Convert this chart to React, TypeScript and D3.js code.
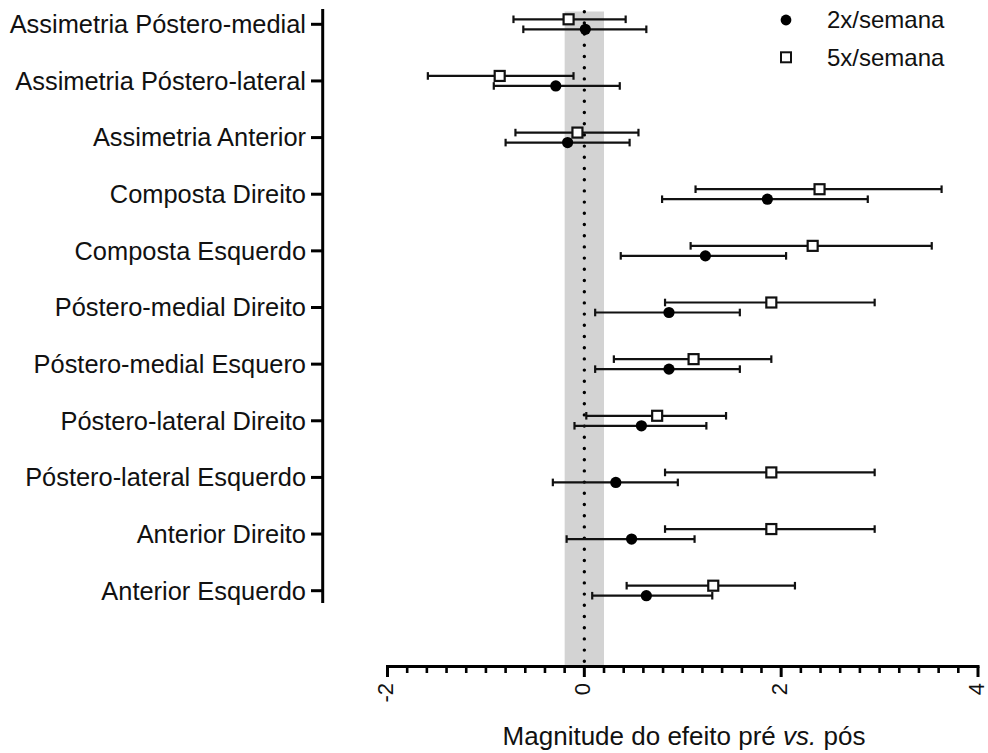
import React from "react";
import * as d3 from "d3";

const categories = [
  "Assimetria Póstero-medial",
  "Assimetria Póstero-lateral",
  "Assimetria Anterior",
  "Composta Direito",
  "Composta Esquerdo",
  "Póstero-medial Direito",
  "Póstero-medial Esquero",
  "Póstero-lateral Direito",
  "Póstero-lateral Esquerdo",
  "Anterior Direito",
  "Anterior Esquerdo",
];

// 2x/semana (filled circles)
const twoMean = [0.01, -0.29, -0.17, 1.86, 1.23, 0.86, 0.86, 0.58, 0.32, 0.48, 0.63];
const twoLow = [-0.62, -0.92, -0.8, 0.79, 0.37, 0.11, 0.11, -0.1, -0.32, -0.18, 0.08];
const twoHigh = [0.63, 0.36, 0.46, 2.88, 2.05, 1.58, 1.58, 1.24, 0.95, 1.12, 1.3];

// 5x/semana (open squares)
const fiveMean = [-0.16, -0.86, -0.07, 2.39, 2.32, 1.9, 1.11, 0.74, 1.9, 1.9, 1.31];
const fiveLow = [-0.72, -1.59, -0.7, 1.13, 1.08, 0.82, 0.3, 0.02, 0.82, 0.82, 0.43];
const fiveHigh = [0.42, -0.11, 0.55, 3.63, 3.53, 2.95, 1.9, 1.44, 2.95, 2.95, 2.14];

const xMajorTicks = [-2, 0, 2, 4];
const xTickLabels = ["-2", "0", "2", "4"];
const seriesNames = ["2x/semana", "5x/semana"];
const bandRange = [-0.2, 0.2];
const xTitle = ["Magnitude do efeito pré ", "vs.", " pós"];

const W = 988;
const H = 753;
const FONT = "Arial, 'Liberation Sans', Helvetica, sans-serif";

export default function App() {
  const x = d3.scaleLinear().domain([-2, 4]).range([387.5, 978]);
  const y = d3
    .scalePoint<string>()
    .domain(categories)
    .range([24.3, 590.7]);
  const axisY = 666.5;
  const yAxisX = 322.7;
  const minorTicks = d3.range(-2, 4.0001, 0.2).filter(
    (v) => !xMajorTicks.some((m) => Math.abs(m - v) < 1e-6)
  );
  const capH = 3.8;
  const offTwo = 5;
  const offFive = -5;

  const errBar = (lo: number, hi: number, cy: number, key: string) => (
    <g key={key} stroke="#111" strokeWidth={2.2} fill="none">
      <line x1={x(lo)} x2={x(hi)} y1={cy} y2={cy} />
      <line x1={x(lo)} x2={x(lo)} y1={cy - capH} y2={cy + capH} />
      <line x1={x(hi)} x2={x(hi)} y1={cy - capH} y2={cy + capH} />
    </g>
  );

  return (
    <svg
      width={W}
      height={H}
      style={{ position: "absolute", left: 0, top: 0, background: "#fff" }}
      fontFamily={FONT}
    >
      <rect x={0} y={0} width={W} height={H} fill="#fff" />
      {/* grey band */}
      <rect
        x={x(bandRange[0])}
        y={11.5}
        width={x(bandRange[1]) - x(bandRange[0])}
        height={axisY - 11.5}
        fill="#d3d3d3"
      />
      {/* dotted zero line */}
      <line
        x1={x(0)}
        x2={x(0)}
        y1={11.7}
        y2={axisY - 4}
        stroke="#000"
        strokeWidth={3.4}
        strokeLinecap="round"
        strokeDasharray="0 11.2"
      />

      {/* y axis */}
      <line x1={yAxisX} x2={yAxisX} y1={9} y2={603} stroke="#000" strokeWidth={3} />
      {categories.map((c) => (
        <g key={c}>
          <line
            x1={311}
            x2={yAxisX}
            y1={y(c)!}
            y2={y(c)!}
            stroke="#000"
            strokeWidth={3}
          />
          <text
            x={306}
            y={y(c)!}
            dy="0.35em"
            textAnchor="end"
            fontSize={25.4}
            fill="#111"
          >
            {c}
          </text>
        </g>
      ))}

      {/* x axis */}
      <line x1={386} x2={979.5} y1={axisY} y2={axisY} stroke="#000" strokeWidth={3} />
      {minorTicks.map((v, i) => (
        <line
          key={"mn" + i}
          x1={x(v)}
          x2={x(v)}
          y1={axisY}
          y2={axisY + 6.5}
          stroke="#000"
          strokeWidth={2.6}
        />
      ))}
      {xMajorTicks.map((v, i) => (
        <g key={"mj" + i}>
          <line
            x1={x(v)}
            x2={x(v)}
            y1={axisY}
            y2={axisY + 10.5}
            stroke="#000"
            strokeWidth={3}
          />
          <text
            transform={`translate(${x(v) - 1.5},${683}) rotate(-90)`}
            textAnchor="end"
            dy="0.33em"
            fontSize={22}
            fill="#111"
          >
            {xTickLabels[i]}
          </text>
        </g>
      ))}
      <text x={684} y={745} textAnchor="middle" fontSize={26} fill="#111">
        {xTitle[0]}
        <tspan fontStyle="italic">{xTitle[1]}</tspan>
        {xTitle[2]}
      </text>

      {/* error bars */}
      {categories.map((c, i) =>
        errBar(fiveLow[i], fiveHigh[i], y(c)! + offFive, "ef" + i)
      )}
      {categories.map((c, i) =>
        errBar(twoLow[i], twoHigh[i], y(c)! + offTwo, "et" + i)
      )}
      {/* markers */}
      {categories.map((c, i) => (
        <rect
          key={"sq" + i}
          x={x(fiveMean[i]) - 5}
          y={y(c)! + offFive - 5}
          width={10}
          height={10}
          fill="#fff"
          stroke="#111"
          strokeWidth={2.2}
        />
      ))}
      {categories.map((c, i) => (
        <circle
          key={"ci" + i}
          cx={x(twoMean[i])}
          cy={y(c)! + offTwo}
          r={5.6}
          fill="#000"
        />
      ))}

      {/* legend */}
      <circle cx={786} cy={20} r={5.4} fill="#000" />
      <rect x={781} y={52.3} width={10} height={10} fill="#fff" stroke="#111" strokeWidth={2} />
      <text x={827} y={20} dy="0.35em" fontSize={24} fill="#111">
        {seriesNames[0]}
      </text>
      <text x={827} y={57.3} dy="0.35em" fontSize={24} fill="#111">
        {seriesNames[1]}
      </text>
    </svg>
  );
}
